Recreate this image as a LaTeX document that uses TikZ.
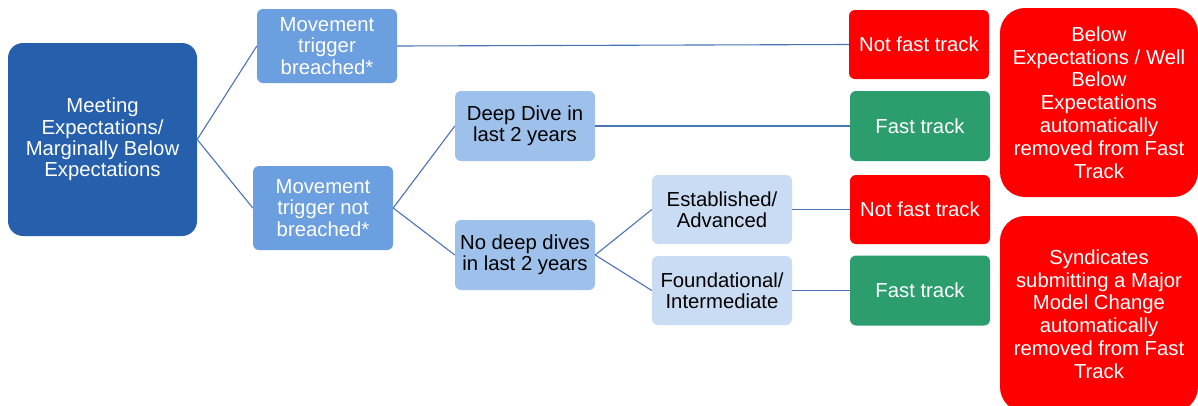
\documentclass[tikz,border=0pt]{standalone}
\usepackage{fontspec}
\setmainfont{Liberation Sans}
\definecolor{rootc}{HTML}{2660AD}
\definecolor{midc}{HTML}{6C9FE0}
\definecolor{ddc}{HTML}{9DC1EB}
\definecolor{ltc}{HTML}{C9DCF3}
\definecolor{redc}{HTML}{FF0000}
\definecolor{grnc}{HTML}{2C9E6E}
\definecolor{linec}{HTML}{4A73B3}
\tikzset{
  box/.style={rectangle, rounded corners=6pt, inner sep=0pt, align=center,
    font=\fontsize{20.3}{21.2}\selectfont},
  boxA/.style={box, fill=midc, text=white, minimum width=140pt},
  boxB/.style={box, fill=ddc, text=black, minimum width=140pt, minimum height=70pt},
  boxC/.style={box, fill=ltc, text=black, minimum width=140pt, minimum height=69pt},
  redbox/.style={box, fill=redc, text=white, minimum width=140pt, minimum height=69pt},
  grnbox/.style={box, fill=grnc, text=white, minimum width=140pt, minimum height=70pt},
  bigred/.style={box, fill=redc, text=white, rounded corners=25pt, minimum width=198pt,
    font=\fontsize{20.3}{22.8}\selectfont},
  conn/.style={draw=linec, line width=1.1pt},
}
\begin{document}
\begin{tikzpicture}[x=1pt,y=-1pt]
\useasboundingbox (0,0) rectangle (1198,405);
\node[box, fill=rootc, text=white, rounded corners=15pt, minimum width=189pt, minimum height=193pt] (root) at (102.5,139.5) {Meeting\\Expectations/\\Marginally Below\\Expectations};
\node[boxA, minimum height=74pt] (mtb) at (327,46) {Movement\\trigger\\breached*};
\node[boxA, minimum height=84pt] (mtnb) at (323,208) {Movement\\trigger not\\breached*};
\node[boxB] (dd) at (525,126) {Deep Dive in\\last 2 years};
\node[boxB] (ndd) at (525,255) {No deep dives\\in last 2 years};
\node[boxC] (est) at (722,209.5) {Established/\\Advanced};
\node[boxC] (fnd) at (722,290.5) {Foundational/\\Intermediate};
\node[redbox] (nft1) at (919,44.5) {Not fast track};
\node[grnbox] (ft1) at (920,126) {Fast track};
\node[redbox] (nft2) at (920,209.5) {Not fast track};
\node[grnbox] (ft2) at (920,290.5) {Fast track};
\node[bigred, minimum height=189pt] (b1) at (1099,102.5) {Below\\Expectations / Well\\Below\\Expectations\\automatically\\removed from Fast\\Track};
\node[bigred, minimum height=196pt] (b2) at (1099,314) {Syndicates\\submitting a Major\\Model Change\\automatically\\removed from Fast\\Track};
\draw[conn] (root.east) -- (mtb.west);
\draw[conn] (root.east) -- (mtnb.west);
\draw[conn] (mtb.east) -- (nft1.west);
\draw[conn] (mtnb.east) -- (dd.west);
\draw[conn] (mtnb.east) -- (ndd.west);
\draw[conn] (dd.east) -- (ft1.west);
\draw[conn] (ndd.east) -- (est.west);
\draw[conn] (ndd.east) -- (fnd.west);
\draw[conn] (est.east) -- (nft2.west);
\draw[conn] (fnd.east) -- (ft2.west);
\end{tikzpicture}
\end{document}
